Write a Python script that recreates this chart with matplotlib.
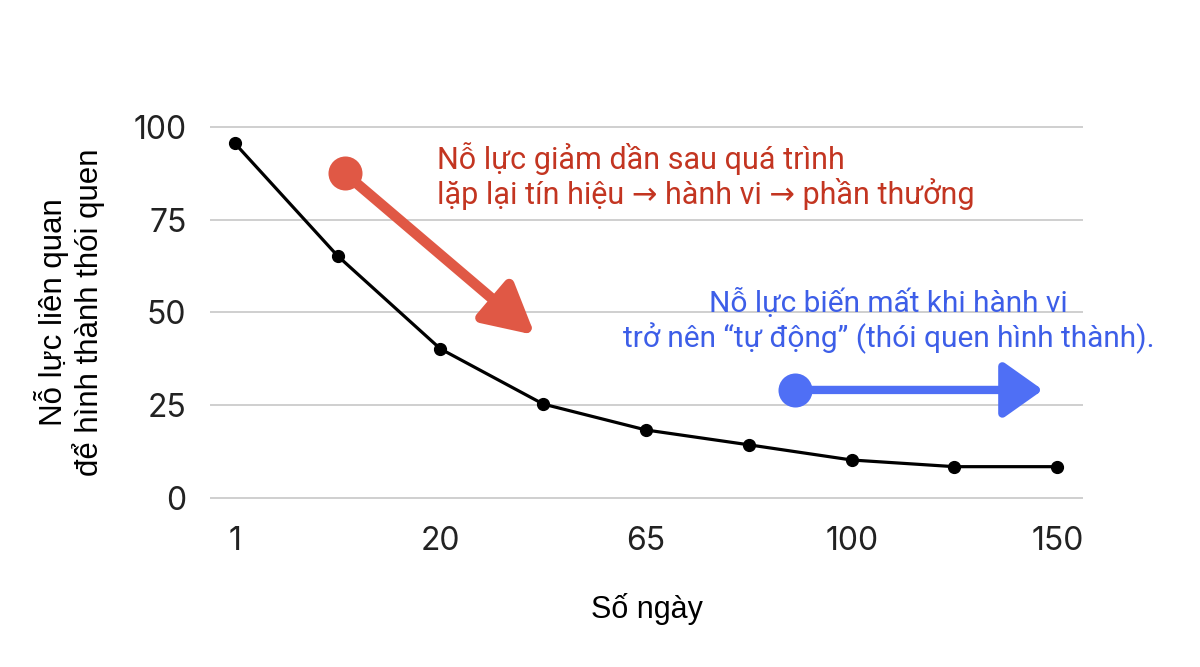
import matplotlib.pyplot as plt
import numpy as np

# data
day_labels = ["1", "", "20", "", "65", "", "100", "", "150"]
effort = [95.7, 65.3, 40.2, 25.3, 18.3, 14.3, 10.2, 8.4, 8.4]
y_ticks = [0, 25, 50, 75, 100]

red_text = "Nỗ lực giảm dần sau quá trình\nlặp lại tín hiệu → hành vi → phần thưởng"
blue_text = "Nỗ lực biến mất khi hành vi\ntrở nên “tự động” (thói quen hình thành)."

# arrow anchors (data coords)
red_start, red_tip = (1.07, 87.6), (2.92, 43.9)
blue_start, blue_tip = (5.45, 29.1), (7.86, 29.1)

red = "#e05845"
red_txt = "#c33521"
blue = "#4f6ff5"
blue_txt = "#3d5ee8"
ink = "#222222"

plt.rcParams['font.family'] = ['Liberation Sans', 'DejaVu Sans']

fig = plt.figure(figsize=(12, 6.67), dpi=100)
ax = fig.add_axes([0.175, 0.237, 0.7275, 0.589])

x = np.arange(len(effort))
ax.plot(x, effort, color="black", lw=2.3, marker="o", ms=8.5, zorder=3)

ax.set_xlim(-0.24, 8.25)
ax.set_ylim(-3, 103)
ax.set_xticks(x)
ax.set_xticklabels(day_labels)
ax.set_yticks(y_ticks)
ax.grid(axis="y", color="#cfcfcf", lw=1.4)
ax.set_axisbelow(True)
for s in ax.spines.values():
    s.set_visible(False)
ax.tick_params(length=0, labelsize=23, labelcolor=ink)
ax.tick_params(axis="x", pad=12)
ax.tick_params(axis="y", pad=17)
for lab in ax.get_xticklabels() + ax.get_yticklabels():
    lab.set_family(["Inter", "DejaVu Sans"])

ax.set_xlabel("Số ngày", fontsize=22, color="black", labelpad=26)
ax.set_ylabel("Nỗ lực liên quan\nđể hình thành thói quen", fontsize=22.5,
              color="black", labelpad=20, linespacing=1.12)

# red arrow
ax.annotate("", xy=red_tip, xytext=red_start,
            arrowprops=dict(arrowstyle="-|>,head_length=30,head_width=16", mutation_scale=1,
                            lw=7.5, color=red, shrinkA=0, shrinkB=0), zorder=4)
ax.scatter(*red_start, s=600, color=red, zorder=5, lw=0)
ax.text(1.97, 86.8, red_text, color=red_txt, fontsize=22, va="center", ha="left",
        family=["Roboto", "DejaVu Sans"], linespacing=1.12)

# blue arrow
ax.annotate("", xy=blue_tip, xytext=blue_start,
            arrowprops=dict(arrowstyle="-|>,head_length=24,head_width=17", mutation_scale=1,
                            lw=6, color=blue, shrinkA=0, shrinkB=0), zorder=4)
ax.scatter(*blue_start, s=600, color=blue, zorder=5, lw=0)
ax.text(6.36, 47.7, blue_text, color=blue_txt, fontsize=21.5, va="center", ha="center",
        family=["Roboto", "DejaVu Sans"], linespacing=1.2)

fig.savefig("out.png", dpi=100, facecolor="white")
